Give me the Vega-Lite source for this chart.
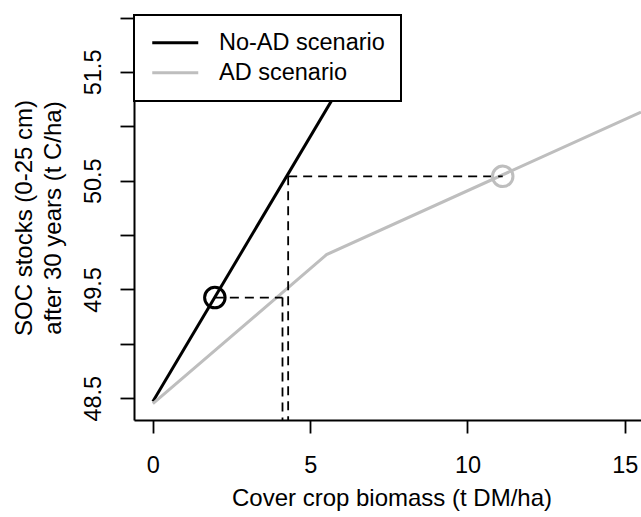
{
  "$schema": "https://vega.github.io/schema/vega-lite/v6.json",
  "width": 507,
  "height": 405,
  "autosize": {"type": "none"},
  "padding": {"left": 134, "top": 15, "right": 0, "bottom": 97},
  "background": "white",
  "config": {
    "view": {"stroke": null},
    "font": "Liberation Sans",
    "axis": {
      "grid": false,
      "domainColor": "black",
      "tickColor": "black",
      "labelColor": "black",
      "titleColor": "black",
      "labelFont": "Liberation Sans",
      "titleFont": "Liberation Sans",
      "labelFontSize": 23.5,
      "titleFontSize": 24,
      "titleFontWeight": "normal",
      "domainWidth": 2,
      "tickWidth": 1.8
    }
  },
  "datasets": {
    "lines": [
      {"scenario": "No-AD scenario", "biomass": 0, "soc": 48.47},
      {"scenario": "No-AD scenario", "biomass": 7.6, "soc": 52.17},
      {"scenario": "AD scenario", "biomass": 0, "soc": 48.45},
      {"scenario": "AD scenario", "biomass": 5.52, "soc": 49.82},
      {"scenario": "AD scenario", "biomass": 15.515, "soc": 51.13}
    ],
    "guides": [
      {"x1": 1.97, "y1": 49.425, "x2": 4.12, "y2": 49.425},
      {"x1": 4.12, "y1": 49.425, "x2": 4.12, "y2": 48.3},
      {"x1": 4.3, "y1": 50.54, "x2": 11.12, "y2": 50.54},
      {"x1": 4.3, "y1": 50.54, "x2": 4.3, "y2": 48.3}
    ],
    "points": [
      {"scenario": "No-AD scenario", "biomass": 1.97, "soc": 49.425},
      {"scenario": "AD scenario", "biomass": 11.12, "soc": 50.54}
    ]
  },
  "layer": [
    {
      "data": {"name": "lines"},
      "mark": {"type": "line", "strokeWidth": 3, "clip": true},
      "encoding": {
        "x": {
          "field": "biomass",
          "type": "quantitative",
          "scale": {"domain": [-0.6, 15.515], "nice": false, "zero": false},
          "axis": {
            "values": [0, 5, 10, 15],
            "tickSize": 13,
            "labelPadding": 39,
            "labelBaseline": "alphabetic",
            "labelFlush": false,
            "labelOverlap": false,
            "title": "Cover crop biomass (t DM/ha)",
            "titleX": 257.5,
            "titleY": 85,
            "titleAlign": "center",
            "titleBaseline": "alphabetic"
          }
        },
        "y": {
          "field": "soc",
          "type": "quantitative",
          "scale": {"domain": [48.3, 52.023], "nice": false, "zero": false},
          "axis": {
            "values": [48.5, 49, 49.5, 50, 50.5, 51, 51.5, 52],
            "format": ".1f",
            "labelExpr": "(datum.value == 48.5 || datum.value == 49.5 || datum.value == 50.5 || datum.value == 51.5) ? datum.label : ''",
            "tickSize": 14,
            "labelAngle": -90,
            "labelAlign": "center",
            "labelBaseline": "alphabetic",
            "labelPadding": 20,
            "labelFlush": false,
            "labelOverlap": false,
            "title": ["SOC stocks (0-25 cm)", "after 30 years (t C/ha)"],
            "titleAngle": -90,
            "titleX": -103,
            "titleY": 202.5,
            "titleAlign": "center",
            "titleBaseline": "alphabetic",
            "titleLineHeight": 29
          }
        },
        "color": {
          "field": "scenario",
          "type": "nominal",
          "scale": {"domain": ["No-AD scenario", "AD scenario"], "range": ["#000000", "#bebebe"]},
          "legend": {
            "orient": "none",
            "legendX": 0,
            "legendY": 0,
            "title": null,
            "padding": 16,
            "fillColor": "white",
            "strokeColor": "black",
            "cornerRadius": 0,
            "symbolType": "M-2.3,0H2.3",
            "symbolSize": 400,
            "symbolStrokeWidth": 3,
            "symbolOffset": 13.5,
            "labelOffset": 32,
            "labelFontSize": 23.5,
            "labelColor": "black",
            "labelFont": "Liberation Sans",
            "labelLimit": 0,
            "rowPadding": 5,
            "encode": {"legend": {"update": {"strokeWidth": {"value": 2}}}}
          }
        }
      }
    },
    {
      "data": {"name": "guides"},
      "mark": {"type": "rule", "strokeDash": [9, 6], "strokeWidth": 1.8, "color": "black"},
      "encoding": {
        "x": {"field": "x1", "type": "quantitative"},
        "y": {"field": "y1", "type": "quantitative"},
        "x2": {"field": "x2"},
        "y2": {"field": "y2"}
      }
    },
    {
      "mark": {"type": "rule", "strokeWidth": 2, "color": "black"},
      "encoding": {"y": {"datum": 52.023, "type": "quantitative"}}
    },
    {
      "data": {"name": "points"},
      "mark": {"type": "point", "shape": "circle", "filled": false, "size": 420, "strokeWidth": 3, "opacity": 1},
      "encoding": {
        "x": {"field": "biomass", "type": "quantitative"},
        "y": {"field": "soc", "type": "quantitative"},
        "stroke": {
          "field": "scenario",
          "type": "nominal",
          "scale": {"domain": ["No-AD scenario", "AD scenario"], "range": ["#000000", "#bebebe"]},
          "legend": null
        }
      }
    }
  ]
}
